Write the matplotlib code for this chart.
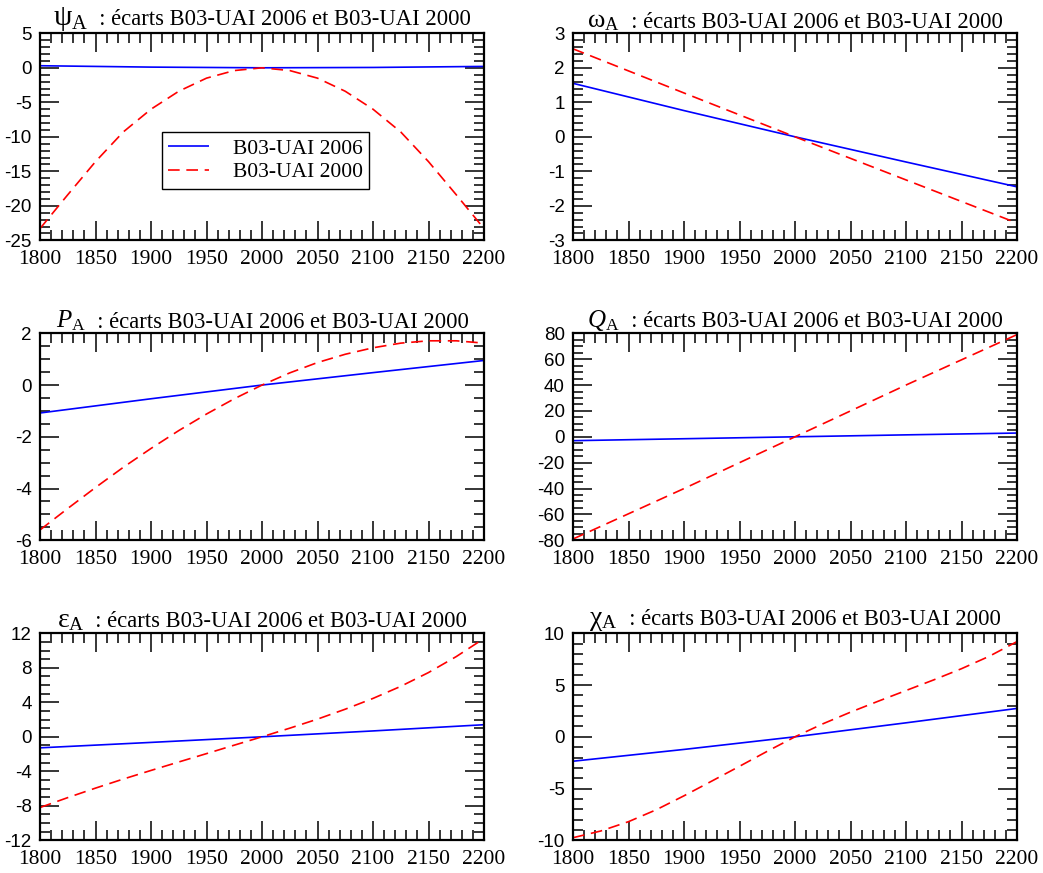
import matplotlib
matplotlib.use("Agg")
import matplotlib.pyplot as plt
from matplotlib.ticker import MultipleLocator
from matplotlib.offsetbox import TextArea, HPacker, AnchoredOffsetbox

plt.rcParams['mathtext.fontset'] = 'custom'
plt.rcParams['mathtext.rm'] = 'Liberation Serif'
plt.rcParams['mathtext.it'] = 'Liberation Serif:italic'
plt.rcParams['mathtext.bf'] = 'Liberation Serif:bold'
plt.rcParams['axes.unicode_minus'] = False

# ---------------- data ----------------
years_fine = [1800, 1825, 1850, 1875, 1900, 1925, 1950, 1975, 2000,
              2025, 2050, 2075, 2100, 2125, 2150, 2175, 2200]
years_coarse = [1800, 1900, 2000, 2100, 2200]

psi_2006 = [0.3, 0.1, 0.0, 0.05, 0.2]
psi_2000 = [-23.3, -18.4, -13.6, -9.3, -6.0, -3.4, -1.5, -0.4, 0.0,
            -0.4, -1.5, -3.4, -6.0, -9.3, -13.6, -18.4, -23.3]

omega_2006 = [1.55, 0.76, 0.0, -0.73, -1.45]
omega_2000 = [2.55, 1.27, 0.0, -1.25, -2.5]

P_2006 = [-1.08, -0.53, 0.0, 0.48, 0.95]
P_2000 = [-5.6, -4.77, -3.96, -3.18, -2.45, -1.76, -1.12, -0.53, 0.0,
          0.47, 0.87, 1.19, 1.44, 1.62, 1.71, 1.71, 1.62]

Q_2006 = [-3.0, -1.5, 0.0, 1.5, 2.9]
Q_2000 = [-79.0, -40.0, 0.0, 40.0, 79.0]

eps_2006 = [-1.28, -0.65, 0.0, 0.68, 1.4]
eps_2000 = [-8.2, -7.05, -5.95, -4.9, -3.9, -2.92, -1.95, -0.97, 0.0,
            1.0, 2.05, 3.2, 4.45, 5.85, 7.45, 9.3, 11.4]

chi_2006 = [-2.36, -1.22, 0.0, 1.35, 2.74]
chi_2000 = [-9.75, -9.1, -8.2, -7.05, -5.7, -4.28, -2.85, -1.4, 0.0,
            1.25, 2.38, 3.44, 4.47, 5.5, 6.58, 7.78, 9.2]

labels = ["B03-UAI 2006", "B03-UAI 2000"]
title_rest = "  : écarts B03-UAI 2006 et B03-UAI 2000"
symbols = [r"$\mathrm{ψ}_\mathrm{A}$", r"$\mathrm{ω}_\mathrm{A}$",
           r"$P_\mathrm{A}$", r"$Q_\mathrm{A}$",
           r"$\mathrm{ε}_\mathrm{A}$", r"$\mathrm{χ}_\mathrm{A}$"]
symbol_sizes = [21, 19, 18, 18, 20, 20]

panels = [
    (psi_2006, years_coarse, psi_2000, years_fine, (-25, 5), 5, 1),
    (omega_2006, years_coarse, omega_2000, years_coarse, (-3, 3), 1, 0.2),
    (P_2006, years_coarse, P_2000, years_fine, (-6, 2), 2, 0.5),
    (Q_2006, years_coarse, Q_2000, years_coarse, (-80, 80), 20, 5),
    (eps_2006, years_coarse, eps_2000, years_fine, (-12, 12), 4, 1),
    (chi_2006, years_coarse, chi_2000, years_fine, (-10, 10), 5, 1),
]

W, H = 1043, 873
fig = plt.figure(figsize=(W / 100, H / 100), dpi=100)

lefts = [40, 573]
tops = [33.3, 333.3, 633.3]
aw, ah = 444, 207

for i, (b, bx, r, rx, ylim, ymaj, ymin) in enumerate(panels):
    row, col = divmod(i, 2)
    ax = fig.add_axes([lefts[col] / W, 1 - (tops[row] + ah) / H, aw / W, ah / H])
    ax.plot(bx, b, color='#0000ff', lw=1.2, solid_capstyle='butt')
    ax.plot(rx, r, color='#ff0000', lw=1.2, dashes=(7, 4))
    ax.set_xlim(1800, 2200)
    ax.set_ylim(*ylim)
    ax.xaxis.set_major_locator(MultipleLocator(50))
    ax.xaxis.set_minor_locator(MultipleLocator(10))
    ax.yaxis.set_major_locator(MultipleLocator(ymaj))
    ax.yaxis.set_minor_locator(MultipleLocator(ymin))
    ax.tick_params(which='both', direction='in', top=True, right=True,
                   width=1.1, color='black')
    ax.tick_params(which='major', length=14)
    ax.tick_params(which='minor', length=7)
    ax.tick_params(axis='x', pad=7)
    ax.tick_params(axis='y', pad=6)
    for lab in ax.get_xticklabels():
        lab.set_fontfamily('Liberation Serif')
        lab.set_fontsize(15.5)
    for lab in ax.get_yticklabels():
        lab.set_fontfamily('Liberation Sans')
        lab.set_fontsize(13.5)
    for sp in ax.spines.values():
        sp.set_linewidth(1.6)

    ta1 = TextArea(symbols[i], textprops=dict(fontsize=symbol_sizes[i],
                                              family='Liberation Serif'))
    ta2 = TextArea(title_rest, textprops=dict(fontsize=16.3, family='Liberation Serif'))
    box = HPacker(children=[ta1, ta2], align='baseline', pad=0, sep=0)
    anc = AnchoredOffsetbox(loc='lower center', child=box, pad=0, borderpad=0,
                            frameon=False, bbox_to_anchor=(0.5, 1.0),
                            bbox_transform=ax.transAxes)
    ax.add_artist(anc)

    if i == 0:
        leg = ax.legend(ax.lines[:2], labels, loc='upper left',
                        bbox_to_anchor=(0.274, 0.521), fancybox=False,
                        edgecolor='black', framealpha=1,
                        prop={'family': 'Liberation Serif', 'size': 15.5},
                        handlelength=1.9, handletextpad=1.1,
                        borderpad=0.3, labelspacing=0.15, borderaxespad=0)
        leg.get_frame().set_linewidth(1.0)

fig.savefig("out.png", dpi=100)
